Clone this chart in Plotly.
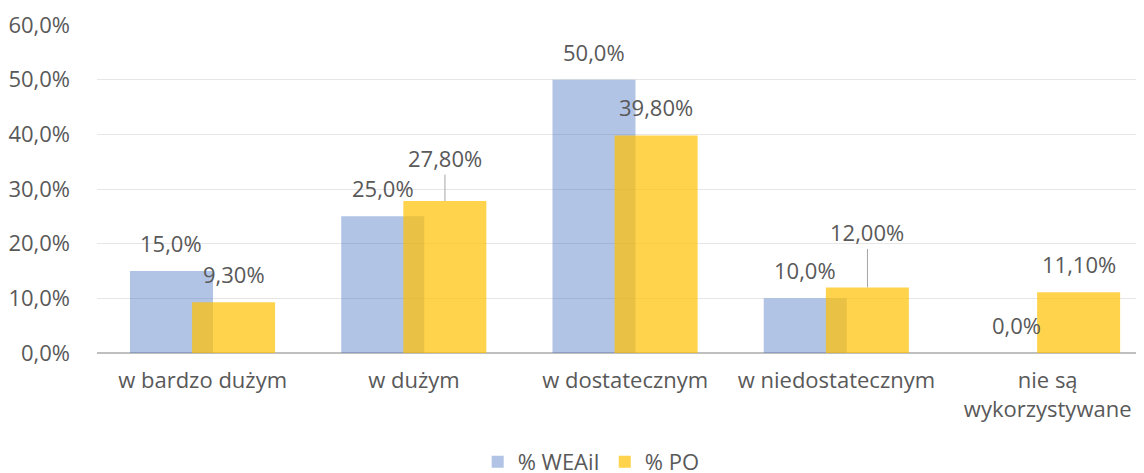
import plotly.graph_objects as go

categories = ["w bardzo dużym", "w dużym", "w dostatecznym", "w niedostatecznym",
              "nie są<br>wykorzystywane"]
weaii = [0.15, 0.25, 0.50, 0.10, 0.0]
po = [0.093, 0.278, 0.398, 0.12, 0.111]
weaii_labels = ["15,0%", "25,0%", "50,0%", "10,0%", "0,0%"]
po_labels = ["9,30%", "27,80%", "39,80%", "12,00%", "11,10%"]
# labels pushed up with a leader line in the original
po_leader = [False, True, False, True, False]

FONT = "Open Sans"
TXT = "#595959"
FS = 22

fig = go.Figure()
fig.add_trace(go.Bar(
    x=categories, y=weaii, name="% WEAiI",
    marker=dict(color="rgba(68,114,196,0.42)", line=dict(width=0)),
    width=0.393, offset=-0.344,
))
fig.add_trace(go.Bar(
    x=categories, y=po, name="% PO",
    marker=dict(color="rgba(255,192,0,0.7)", line=dict(width=0)),
    width=0.393, offset=-0.05,
))

# data labels
for i, (v, lab) in enumerate(zip(weaii, weaii_labels)):
    fig.add_annotation(x=i - 0.148, y=v, text=lab, showarrow=False,
                       yshift=28, font=dict(size=FS, color=TXT, family=FONT))
for i, (v, lab, lead) in enumerate(zip(po, po_labels, po_leader)):
    if lead:
        fig.add_annotation(x=i + 0.147, y=v, text=lab, showarrow=True,
                           arrowhead=0, arrowwidth=1, arrowcolor="#A6A6A6",
                           ax=0, ay=-43 if i == 1 else -55, standoff=0,
                           font=dict(size=FS, color=TXT, family=FONT))
    else:
        fig.add_annotation(x=i + 0.147, y=v, text=lab, showarrow=False,
                           yshift=28, font=dict(size=FS, color=TXT, family=FONT))

# page body has an 8px margin, so the figure is sized to fit the window
fig.update_layout(
    barmode="overlay",
    separators=", ",
    width=1136, height=465,
    margin=dict(l=89, r=0, t=17, b=120, autoexpand=False),
    paper_bgcolor="white", plot_bgcolor="white",
    font=dict(family=FONT, size=FS, color=TXT),
    showlegend=True,
    legend=dict(orientation="h", x=0.472, xanchor="center", yref="container",
                y=0.024, yanchor="middle", font=dict(size=FS, color=TXT),
                itemwidth=30, traceorder="normal"),
    xaxis=dict(range=[-0.5, 4.456], showgrid=False, ticks="", showline=False,
               ticklabelstandoff=12, tickfont=dict(size=FS, color=TXT)),
    yaxis=dict(range=[0, 0.6], dtick=0.1, tickformat=".1%", showgrid=True,
               gridcolor="#E6E6E6", gridwidth=1, zeroline=True,
               zerolinecolor="#BFBFBF", zerolinewidth=2,
               ticklabelstandoff=26, tickfont=dict(size=FS, color=TXT)),
)

fig.write_html("out.html")
